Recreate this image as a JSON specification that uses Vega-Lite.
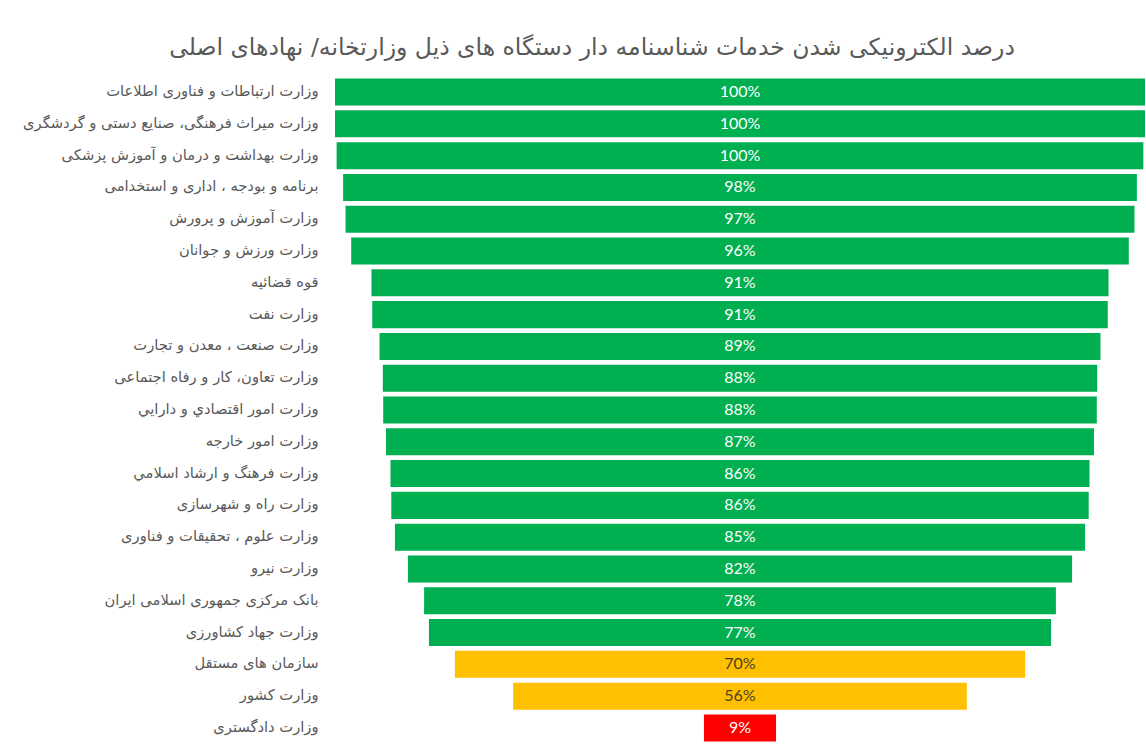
{
  "$schema": "https://vega.github.io/schema/vega-lite/v6.json",
  "autosize": "none",
  "width": 810,
  "height": 668,
  "padding": {"left": 335, "top": 76, "right": 0, "bottom": 0},
  "background": "white",
  "title": {
    "text": "درصد الکترونیکی شدن خدمات شناسنامه دار  دستگاه های ذیل وزارتخانه/ نهادهای اصلی",
    "anchor": "middle",
    "dx": -148,
    "offset": 17,
    "font": "DejaVu Sans",
    "fontSize": 23.5,
    "fontWeight": "normal",
    "color": "#595959"
  },
  "config": {"view": {"stroke": null}},
  "data": {
    "values": [
      {"org": "وزارت ارتباطات و فناوری اطلاعات", "value": 1.0, "level": "high"},
      {"org": "وزارت میراث فرهنگی، صنایع دستی و گردشگری", "value": 1.0, "level": "high"},
      {"org": "وزارت بهداشت و درمان و آموزش پزشکی", "value": 0.996, "level": "high"},
      {"org": "برنامه و بودجه ، اداری و استخدامی", "value": 0.98, "level": "high"},
      {"org": "وزارت آموزش و پرورش", "value": 0.974, "level": "high"},
      {"org": "وزارت ورزش و جوانان", "value": 0.96, "level": "high"},
      {"org": "قوه قضائیه", "value": 0.91, "level": "high"},
      {"org": "وزارت نفت", "value": 0.908, "level": "high"},
      {"org": "وزارت صنعت ، معدن و تجارت", "value": 0.89, "level": "high"},
      {"org": "وزارت تعاون، کار و رفاه اجتماعی", "value": 0.882, "level": "high"},
      {"org": "وزارت امور اقتصادي و دارايي", "value": 0.881, "level": "high"},
      {"org": "وزارت امور خارجه", "value": 0.874, "level": "high"},
      {"org": "وزارت فرهنگ و ارشاد اسلامي", "value": 0.863, "level": "high"},
      {"org": "وزارت راه و شهرسازی", "value": 0.861, "level": "high"},
      {"org": "وزارت علوم ، تحقیقات و فناوری", "value": 0.852, "level": "high"},
      {"org": "وزارت نیرو", "value": 0.82, "level": "high"},
      {"org": "بانک مرکزی جمهوری اسلامی ایران", "value": 0.78, "level": "high"},
      {"org": "وزارت جهاد کشاورزی", "value": 0.768, "level": "high"},
      {"org": "سازمان های مستقل", "value": 0.704, "level": "mid"},
      {"org": "وزارت کشور", "value": 0.56, "level": "mid"},
      {"org": "وزارت دادگستری", "value": 0.089, "level": "low"}
    ]
  },
  "encoding": {
    "y": {
      "field": "org",
      "type": "nominal",
      "sort": null,
      "scale": {"paddingInner": 0.15, "paddingOuter": 0.08},
      "axis": {
        "title": null,
        "domain": false,
        "ticks": false,
        "grid": false,
        "labelFont": "DejaVu Sans",
        "labelFontSize": 14.7,
        "labelColor": "#595959",
        "labelPadding": 17,
        "labelLimit": 400
      }
    }
  },
  "layer": [
    {
      "mark": {"type": "bar"},
      "encoding": {
        "x": {
          "field": "value",
          "type": "quantitative",
          "stack": "center",
          "scale": {"domain": [0, 1], "nice": false, "zero": false},
          "axis": null
        },
        "color": {
          "field": "level",
          "type": "nominal",
          "scale": {"domain": ["high", "mid", "low"], "range": ["#00B050", "#FFC000", "#FF0000"]},
          "legend": null
        }
      }
    },
    {
      "mark": {"type": "text", "font": "Lato", "fontSize": 16, "align": "center", "baseline": "middle"},
      "encoding": {
        "x": {"datum": 0.5, "type": "quantitative"},
        "text": {"field": "value", "type": "quantitative", "format": ".0%"},
        "color": {
          "field": "level",
          "type": "nominal",
          "scale": {"domain": ["high", "mid", "low"], "range": ["#ffffff", "#4d4020", "#ffffff"]},
          "legend": null
        }
      }
    }
  ],
  "resolve": {"scale": {"color": "independent"}}
}
